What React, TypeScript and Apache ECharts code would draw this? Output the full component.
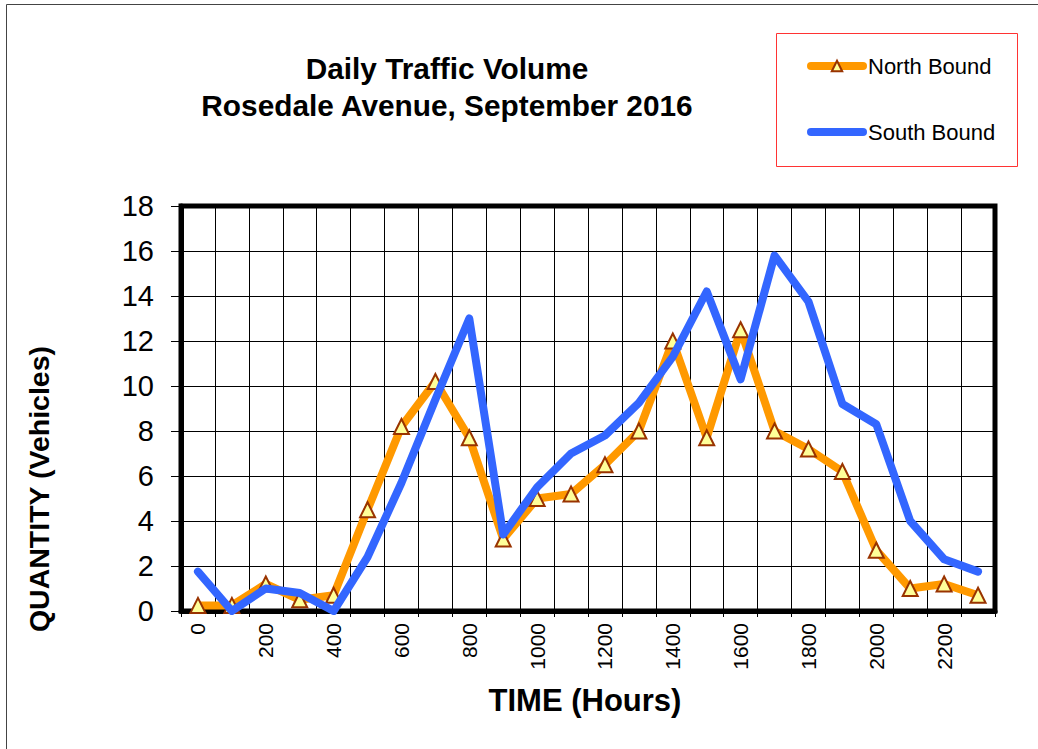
import React, { useEffect, useRef } from "react";
import * as echarts from "echarts";

const hours = ["0","100","200","300","400","500","600","700","800","900","1000","1100","1200","1300","1400","1500","1600","1700","1800","1900","2000","2100","2200","2300"];
const northBound = [0.25,0.25,1.2,0.5,0.7,4.5,8.2,10.2,7.7,3.2,5.0,5.2,6.5,8.0,12.0,7.7,12.5,8.0,7.2,6.2,2.7,1.0,1.2,0.7];
const southBound = [1.75,0,1.0,0.8,0,2.4,5.7,9.4,13.0,3.4,5.5,7.0,7.8,9.25,11.3,14.2,10.3,15.8,13.75,9.2,8.3,4.0,2.3,1.75];
const titleText = "Daily Traffic Volume\nRosedale Avenue, September 2016";
const xName = "TIME (Hours)";
const yName = "QUANTITY (Vehicles)";

const FONT = '"Liberation Sans", Arial, sans-serif';

export default function App() {
  const ref = useRef<HTMLDivElement>(null);
  useEffect(() => {
    if (!ref.current) return;
    const chart = echarts.init(ref.current, null, { renderer: "svg" });
    chart.setOption({
      animation: false,
      backgroundColor: "#ffffff",
      textStyle: { fontFamily: FONT },
      title: {
        text: titleText,
        left: 447,
        top: 50,
        textAlign: "center",
        padding: 0,
        textStyle: { fontFamily: FONT, fontSize: 29.8, fontWeight: "bold", color: "#000", lineHeight: 37 },
      },
      legend: {
        orient: "vertical",
        left: 807,
        top: 55,
        padding: 0,
        itemWidth: 52,
        itemHeight: 13,
        itemGap: 44,
        lineStyle: { width: 8, cap: "round" },
        textStyle: { fontFamily: FONT, fontSize: 22, color: "#000" },
        data: [
          { name: "North Bound" },
          { name: "South Bound", itemStyle: { opacity: 0 } },
        ],
      },
      grid: {
        left: 181,
        right: 43,
        top: 206,
        bottom: 138,
        containLabel: false,
        show: true,
        borderWidth: 5,
        borderColor: "#000",
      },
      xAxis: {
        type: "category",
        data: hours,
        boundaryGap: true,
        axisLine: { lineStyle: { color: "#000", width: 5 } },
        axisTick: { show: true, interval: 0, length: 6, lineStyle: { color: "#000", width: 1 } },
        axisLabel: { interval: 1, rotate: 90, fontSize: 21, color: "#000", margin: 12, fontFamily: FONT },
        splitLine: { show: true, interval: 0, lineStyle: { color: "#000", width: 1 } },
      },
      yAxis: {
        type: "value",
        min: 0,
        max: 18,
        interval: 2,
        axisLine: { show: true, lineStyle: { color: "#000", width: 5 } },
        axisTick: { show: true, length: 10, lineStyle: { color: "#000", width: 1 } },
        axisLabel: { fontSize: 29, color: "#000", margin: 27, fontFamily: FONT },
        splitLine: { show: true, lineStyle: { color: "#000", width: 1 } },
      },
      series: [
        {
          name: "North Bound",
          type: "line",
          data: northBound,
          z: 2,
          symbol: "triangle",
          symbolSize: 15,
          showSymbol: true,
          lineStyle: { color: "#FF9900", width: 8, join: "round", cap: "round" },
          itemStyle: { color: "#FFFF99", borderColor: "#993300", borderWidth: 2 },
          color: "#FF9900",
        },
        {
          name: "South Bound",
          type: "line",
          data: southBound,
          z: 3,
          symbol: "none",
          lineStyle: { color: "#3366FF", width: 8, join: "round", cap: "round" },
          itemStyle: { color: "#3366FF" },
          color: "#3366FF",
        },
      ],
      graphic: [
        {
          type: "rect",
          shape: { x: 6.5, y: 4.5, width: 1100, height: 800 },
          style: { fill: "none", stroke: "#444", lineWidth: 1 },
          silent: true,
        },
        {
          type: "rect",
          shape: { x: 776.5, y: 33.5, width: 241, height: 133 },
          style: { fill: "none", stroke: "#FF3333", lineWidth: 1 },
          silent: true,
        },
        {
          type: "text",
          x: 585,
          y: 700,
          style: { text: xName, font: "bold 31px " + FONT, fill: "#000", textAlign: "center", textVerticalAlign: "middle" },
        },
        {
          type: "text",
          x: 39,
          y: 489,
          rotation: Math.PI / 2,
          style: { text: yName, font: "bold 28.5px " + FONT, fill: "#000", textAlign: "center", textVerticalAlign: "middle" },
        },
      ],
    });
    return () => chart.dispose();
  }, []);
  return (
    <div
      ref={ref}
      style={{ position: "fixed", left: 0, top: 0, width: 1038, height: 749 }}
    />
  );
}
